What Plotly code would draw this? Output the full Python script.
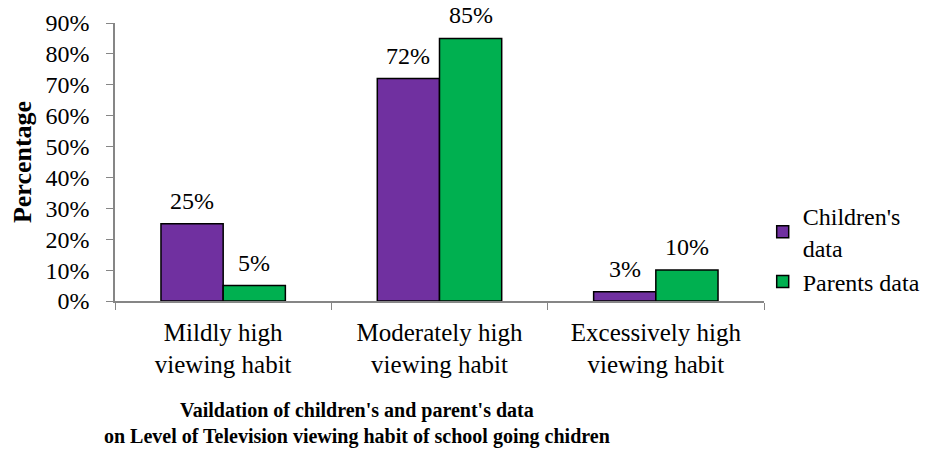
import plotly.graph_objects as go

categories = ["Mildly high<br>viewing habit", "Moderately high<br>viewing habit", "Excessively high<br>viewing habit"]
children = [25, 72, 3]
parents = [5, 85, 10]
series_names = ["Children's<br>data", "Parents data"]
y_ticks = [0, 10, 20, 30, 40, 50, 60, 70, 80, 90]
x_title = "<b>Vaildation of children's and parent's data<br>on Level of Television viewing habit of school going chidren</b>"

FONT = "Liberation Serif, Times New Roman, serif"
AXIS_GRAY = "#868686"
COLORS = ["#7030A0", "#00B050"]

W, H = 937, 452
M = dict(l=115, r=171, t=23, b=151)
BARGAP = 0.425

fig = go.Figure()
for name, vals, color in zip(series_names, [children, parents], COLORS):
    fig.add_trace(go.Bar(
        x=categories, y=vals, name=name,
        marker=dict(color=color, line=dict(color="black", width=1.5)),
    ))

# value labels above each bar, shifted onto their bar within the group
plot_w = W - M["l"] - M["r"]
bar_px = plot_w / len(categories) * (1 - BARGAP) / 2
for k, vals in enumerate([children, parents]):
    shift = (k - 0.5) * bar_px
    for cat, v in zip(categories, vals):
        fig.add_annotation(
            x=cat, y=v, text=f"{v}%", showarrow=False,
            xref="x", yref="y", xanchor="center", yanchor="bottom",
            xshift=shift, yshift=8,
            font=dict(family=FONT, size=24, color="black"),
        )

# horizontal-axis caption
fig.add_annotation(
    x=0.373, y=-0.442, xref="paper", yref="paper",
    xanchor="center", yanchor="middle", align="center",
    text=x_title, showarrow=False,
    font=dict(family=FONT, size=20, color="black"),
)

fig.update_layout(
    width=W, height=H,
    margin=M,
    paper_bgcolor="white", plot_bgcolor="white",
    barmode="group", bargap=BARGAP, bargroupgap=0,
    font=dict(family=FONT, size=24, color="black"),
    showlegend=True,
    legend=dict(x=0.998, y=0.187, xanchor="left", yanchor="middle",
                font=dict(family=FONT, size=24), traceorder="normal",
                itemwidth=30, tracegroupgap=0, bgcolor="rgba(0,0,0,0)"),
)
fig.update_xaxes(
    showline=True, linecolor=AXIS_GRAY, linewidth=1.5,
    ticks="outside", tickson="boundaries", ticklen=7, tickcolor=AXIS_GRAY,
    tickfont=dict(family=FONT, size=25), automargin=False,
    ticklabelstandoff=8,
)
fig.update_yaxes(
    range=[0, 90], tickvals=y_ticks, ticktext=[f"{t}%" for t in y_ticks],
    showline=True, linecolor=AXIS_GRAY, linewidth=1.5,
    ticks="outside", ticklen=7, tickcolor=AXIS_GRAY,
    showgrid=False, zeroline=False, automargin=False,
    tickfont=dict(family=FONT, size=24), ticklabelstandoff=12,
    title=dict(text="<b>Percentage</b>", font=dict(family=FONT, size=26), standoff=6),
)

fig.write_html("out.html")
